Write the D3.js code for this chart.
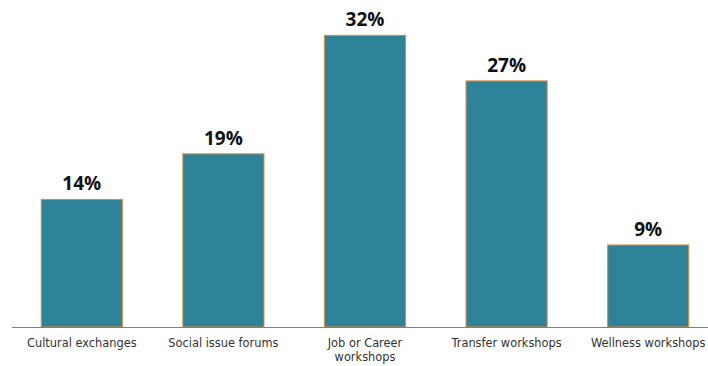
<!DOCTYPE html>
<html>
<head>
<meta charset="utf-8">
<script src="https://cdn.jsdelivr.net/npm/d3@7"></script>
<style>
  html, body { margin: 0; padding: 0; background: #fff; }
  svg { display: block; }
</style>
</head>
<body>
<svg id="chart" width="708" height="366"></svg>
<script>
// Share of respondents interested in each program type (%)
const categories = [
  ["Cultural exchanges"],
  ["Social issue forums"],
  ["Job or Career", "workshops"],
  ["Transfer workshops"],
  ["Wellness workshops"]
];
const values = [14, 19, 32, 27, 9];

const svg = d3.select("#chart");
const baseY = 327;

const x = d3.scaleBand()
  .domain(d3.range(values.length))
  .range([11, 719])
  .paddingInner(0.427)
  .paddingOuter(0.2135);

const y = d3.scaleLinear()
  .domain([0, 35])
  .range([baseY, 8]);

// bars
svg.append("g").selectAll("rect")
  .data(values)
  .join("rect")
  .attr("x", (d, i) => x(i))
  .attr("y", d => y(d))
  .attr("width", x.bandwidth())
  .attr("height", d => baseY - y(d))
  .attr("fill", "#2E8399")
  .attr("stroke", "#E08A3C")
  .attr("stroke-width", 1);

// value labels
svg.append("g").selectAll("text")
  .data(values)
  .join("text")
  .attr("x", (d, i) => x(i) + x.bandwidth() / 2)
  .attr("y", d => y(d) - 9)
  .attr("text-anchor", "middle")
  .attr("font-family", "'Open Sans', 'Noto Sans', sans-serif")
  .attr("font-weight", "bold")
  .attr("font-size", 19)
  .attr("fill", "#111")
  .text(d => d + "%");

// baseline axis
const axis = svg.append("g").attr("transform", `translate(0,${baseY})`)
  .call(d3.axisBottom(x).tickSize(0).tickFormat(""));
axis.select(".domain").attr("stroke", "#808080").attr("d", "M12,0.5H708");

// category labels
const lab = svg.append("g").selectAll("text")
  .data(categories)
  .join("text")
  .attr("x", (d, i) => x(i) + x.bandwidth() / 2)
  .attr("y", 347)
  .attr("text-anchor", "middle")
  .attr("font-family", "'DejaVu Sans', sans-serif")
  .attr("font-size", 11.4)
  .attr("fill", "#333");
lab.selectAll("tspan")
  .data(d => d)
  .join("tspan")
  .attr("x", function() { return d3.select(this.parentNode).attr("x"); })
  .attr("dy", (d, i) => i === 0 ? 0 : 14)
  .text(d => d);
</script>
</body>
</html>
